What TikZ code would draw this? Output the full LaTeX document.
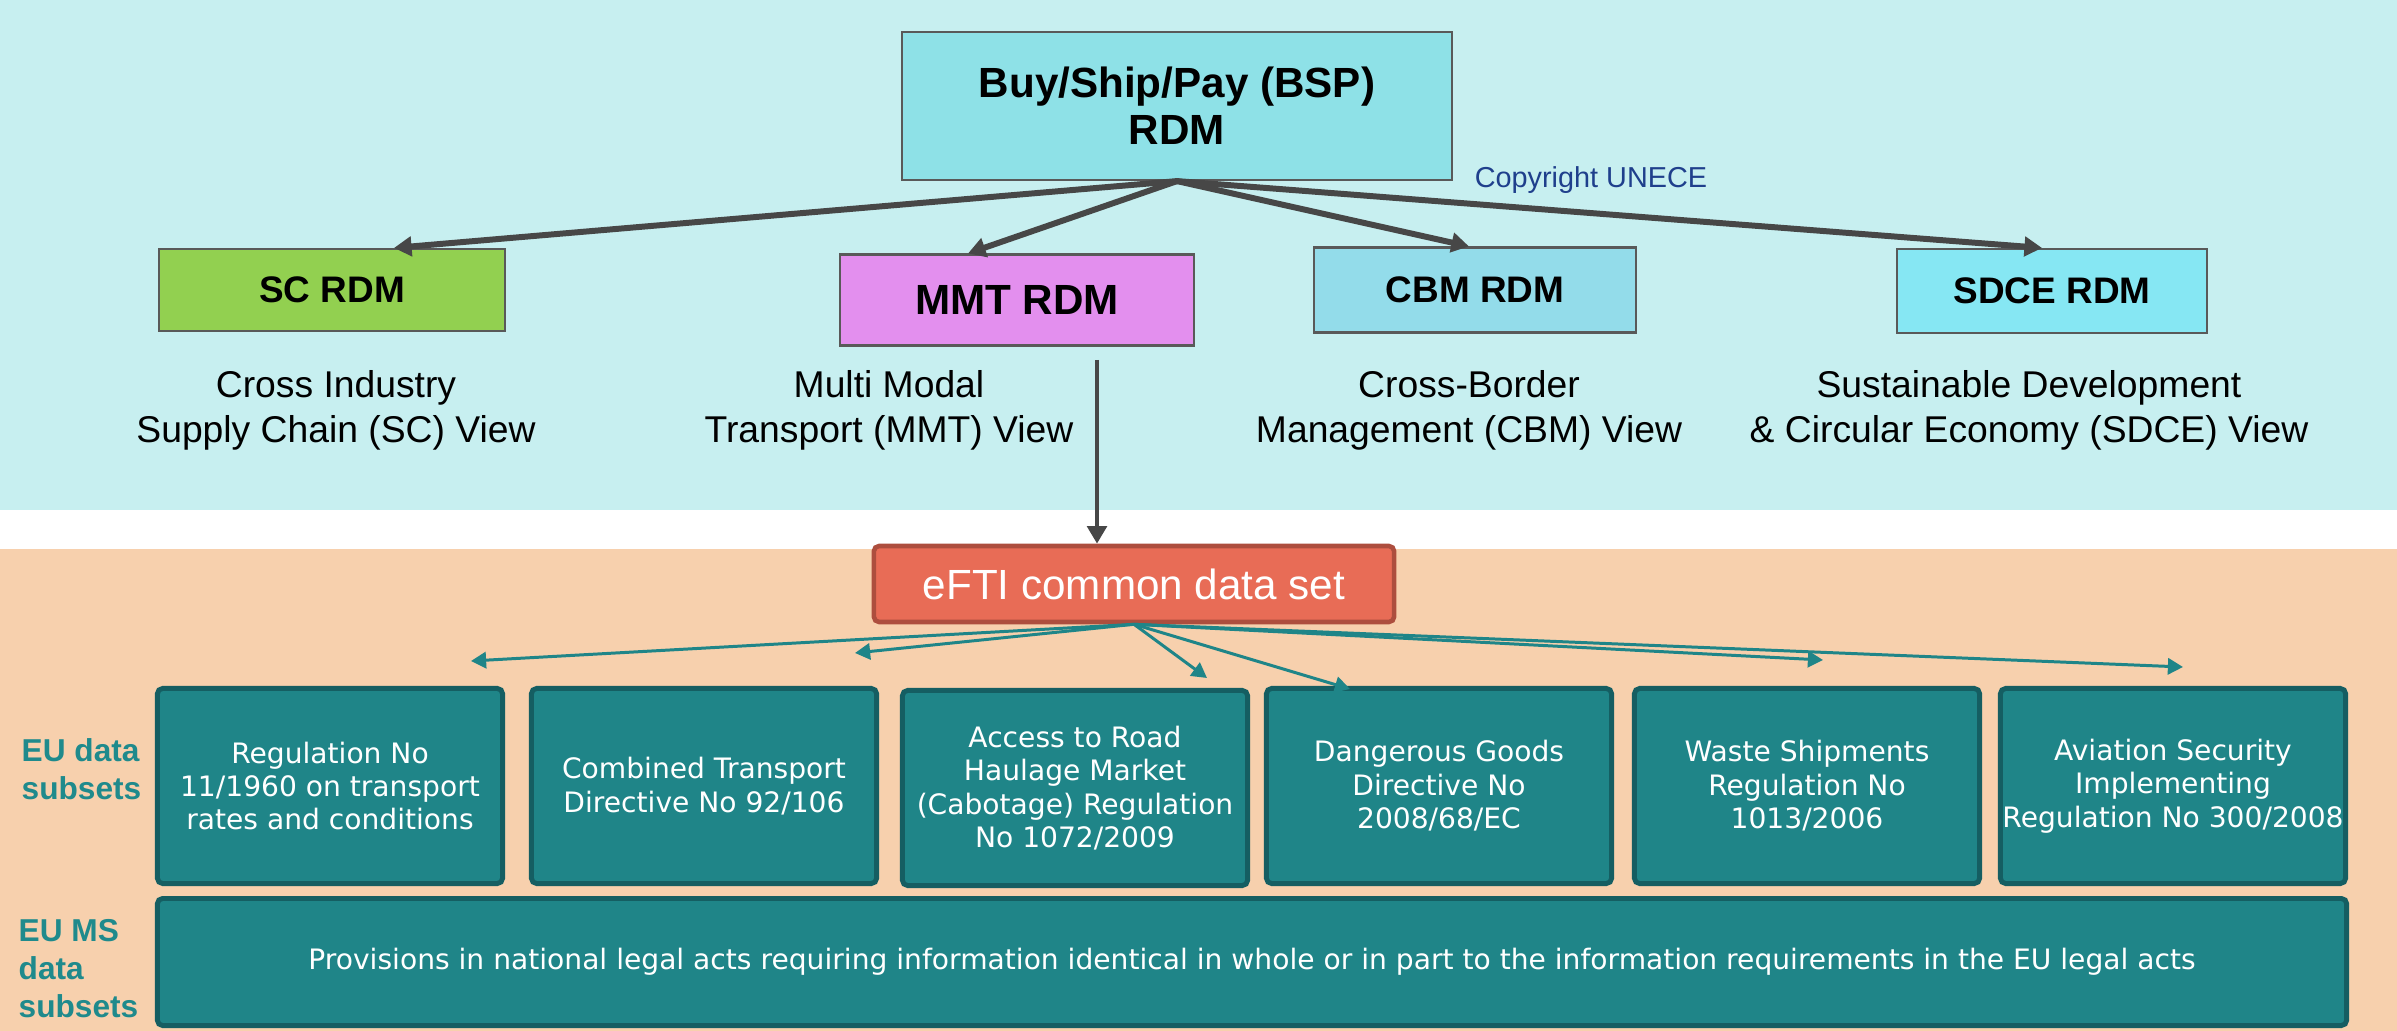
\documentclass[tikz,border=0pt]{standalone}
\usepackage{fontspec}
\setmainfont{Liberation Sans}
\newfontfamily\boxfont{DejaVu Sans}
\usetikzlibrary{arrows.meta,calc,positioning}

\definecolor{topbg}{HTML}{C7EFF0}
\definecolor{lowbg}{HTML}{F7D0AD}
\definecolor{bspfill}{HTML}{8EE1E7}
\definecolor{scfill}{HTML}{92D050}
\definecolor{mmtfill}{HTML}{E38FEE}
\definecolor{cbmfill}{HTML}{93DCEA}
\definecolor{sdcefill}{HTML}{86E7F3}
\definecolor{eftifill}{HTML}{E86C56}
\definecolor{eftiline}{HTML}{AD4E3E}
\definecolor{tealbox}{HTML}{1F8588}
\definecolor{tealline}{HTML}{155E62}
\definecolor{tealtext}{HTML}{1F8A8C}
\definecolor{boxgray}{HTML}{595959}
\definecolor{arrowgray}{HTML}{474747}
\definecolor{copyblue}{HTML}{1F3F8C}

\tikzset{
  rdmbox/.style={draw=boxgray, line width=0.6pt, inner sep=0pt,
    font=\bfseries\fontsize{10.5}{12}\selectfont},
  viewtext/.style={align=center, inner sep=0pt,
    font=\fontsize{10.6}{12.8}\selectfont},
  legalbox/.style={draw=tealline, fill=tealbox, line width=1.4pt,
    rounded corners=1.5pt, text=white, align=center, inner sep=0pt,
    minimum width=3.45cm, minimum height=1.95cm,
    font=\boxfont\fontsize{8}{9.5}\selectfont},
  sidelabel/.style={text=tealtext, align=left, inner sep=0pt, anchor=west,
    font=\bfseries\fontsize{9}{10.8}\selectfont},
  grayarrow/.style={draw=arrowgray, line width=1.7pt,
    -{Triangle[length=5pt,width=5.5pt]}},
  tealarrow/.style={draw=tealbox, line width=0.85pt,
    -{Triangle[length=4.3pt,width=4.6pt]}}
}

\begin{document}
\begin{tikzpicture}[x=0.01cm,y=-0.01cm]
\useasboundingbox (0,0) rectangle (2397,1031);
% backgrounds
\fill[topbg] (0,0) rectangle (2397,510);
\fill[lowbg] (0,549) rectangle (2397,1031);

% reference data models
\node[rdmbox, fill=bspfill, minimum width=5.49cm, minimum height=1.48cm,
  align=center, font=\bfseries\fontsize{12}{13.4}\selectfont]
  (bsp) at (1177,106) {Buy/Ship/Pay (BSP)\\RDM};
\node[rdmbox, fill=scfill, minimum width=3.46cm, minimum height=0.82cm]
  (sc) at (332,290) {SC RDM};
\node[rdmbox, fill=mmtfill, minimum width=3.54cm, minimum height=0.91cm,
  font=\bfseries\fontsize{12}{14}\selectfont]
  (mmt) at (1017,300) {MMT RDM};
\node[rdmbox, fill=cbmfill, minimum width=3.22cm, minimum height=0.85cm]
  (cbm) at (1475,290) {CBM RDM};
\node[rdmbox, fill=sdcefill, minimum width=3.09cm, minimum height=0.84cm]
  (sdce) at (2052,291) {SDCE RDM};

\node[text=copyblue, inner sep=0pt, font=\fontsize{8.2}{10}\selectfont]
  (copy) at (1591,180) {Copyright UNECE};

% views
\node[viewtext] (scview) at (336,410) {Cross Industry\\Supply Chain (SC) View};
\node[viewtext] (mmtview) at (889,410) {Multi Modal\\Transport (MMT) View};
\node[viewtext] (cbmview) at (1469,410) {Cross-Border\\Management (CBM) View};
\node[viewtext] (sdceview) at (2029,410) {Sustainable Development\\\& Circular Economy (SDCE) View};

\draw[grayarrow] (bsp.south) -- ($(sc.north)+(62,0)$);
\draw[grayarrow] (bsp.south) -- ($(mmt.north)+(-49,0)$);
\draw[grayarrow] (bsp.south) -- ($(cbm.north)+(-6,0)$);
\draw[grayarrow] (bsp.south) -- ($(sdce.north)+(-10,0)$);

% eFTI data set
\node[draw=eftiline, fill=eftifill, line width=1.3pt, rounded corners=1.5pt,
  text=white, minimum width=5.2cm, minimum height=0.76cm, inner sep=0pt,
  font=\fontsize{12}{14}\selectfont]
  (efti) at (1134,584) {eFTI common data set};

\coordinate (mmtdrop) at (1097,360);
\draw[grayarrow, line width=1.4pt] (mmtdrop) -- (mmtdrop |- efti.north);

% EU data subsets
\node[legalbox] (reg) at (330,786) {Regulation No\\11/1960 on transport\\rates and conditions};
\node[legalbox] (comb) at (704,786) {Combined Transport\\Directive No 92/106};
\node[legalbox] (road) at (1075,788) {Access to Road\\Haulage Market\\(Cabotage) Regulation\\No 1072/2009};
\node[legalbox] (dang) at (1439,786) {Dangerous Goods\\Directive No\\2008/68/EC};
\node[legalbox] (waste) at (1807,786) {Waste Shipments\\Regulation No\\1013/2006};
\node[legalbox] (avia) at (2173,786) {Aviation Security\\Implementing\\Regulation No 300/2008};

\node[legalbox, minimum width=21.88cm, minimum height=1.27cm]
  (nat) at (1252,962) {Provisions in national legal acts requiring information identical in whole or in part to the information requirements in the EU legal acts};

\node[sidelabel] (eulab) at (21,769) {EU data\\subsets};
\node[sidelabel] (mslab) at (18,969) {EU MS\\data\\subsets};

% arrows to the subsets
\foreach \t/\x/\y in {a/471/661, b/855/653, c/1207/678, d/1350/689, e/1823/660, f/2183/667}
  \coordinate (tip\t) at (\x,\y);
\foreach \t in {a,b,c,d,e,f}
  \draw[tealarrow] (efti.south) -- (tip\t);
\end{tikzpicture}
\end{document}
